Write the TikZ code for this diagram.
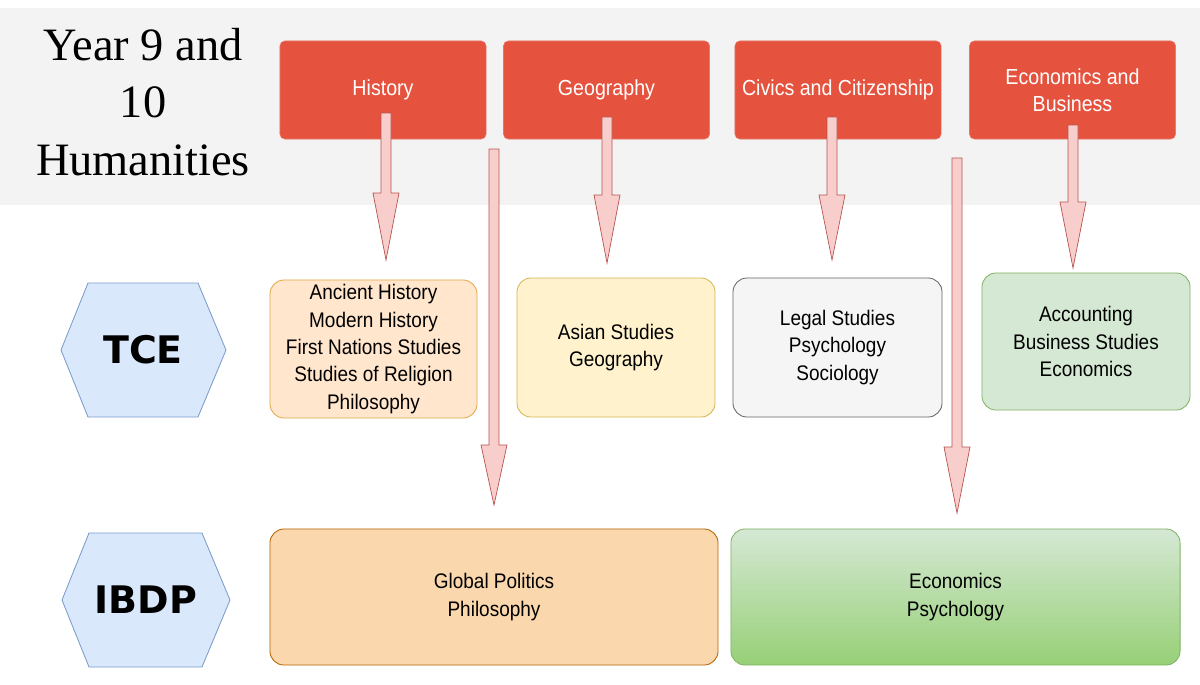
\documentclass[tikz,border=0pt]{standalone}
\usepackage{fontspec}
\setmainfont{Liberation Sans}[FakeStretch=0.9]
\newfontfamily\titleserif{Liberation Serif}
\newfontfamily\hexsans{DejaVu Sans}
\usetikzlibrary{calc}
\definecolor{bandgray}{HTML}{F3F3F3}
\definecolor{redfill}{HTML}{E5533F}
\definecolor{pinkfill}{HTML}{F8CECC}
\definecolor{pinkline}{HTML}{B85450}
\definecolor{hexfill}{HTML}{DAE8FC}
\definecolor{hexline}{HTML}{7B9CCB}
\definecolor{orfill}{HTML}{FFE6CC}
\definecolor{orline}{HTML}{E0A94A}
\definecolor{yefill}{HTML}{FFF2CC}
\definecolor{yeline}{HTML}{D6B656}
\definecolor{grfill}{HTML}{F5F5F5}
\definecolor{grline}{HTML}{666666}
\definecolor{gnfill}{HTML}{D5E8D4}
\definecolor{gnline}{HTML}{82B366}
\definecolor{or2fill}{HTML}{FAD7AC}
\definecolor{or2line}{HTML}{B46504}
\definecolor{gnbottom}{HTML}{97D077}
\tikzset{
  redbox/.style={fill=redfill, draw=redfill!80!white, rounded corners=0.12cm, minimum width=5.15cm, minimum height=2.45cm, text=white, align=center, font=\fontsize{15.5pt}{19.5pt}\selectfont, inner sep=0pt},
  subjbox/.style={rounded corners=0.35cm, align=center, font=\fontsize{15pt}{19.5pt}\selectfont, inner sep=0pt, line width=0.6pt},
  hexshape/.style={fill=hexfill, draw=hexline, line width=0.6pt},
  hextext/.style={font=\hexsans\bfseries\fontsize{27pt}{30pt}\selectfont},
  blockarrow/.style={fill=pinkfill, draw=pinkline, line width=0.5pt, line join=miter}
}
\newcommand{\blkarrow}[4]{%
  \path[blockarrow] (#1-5,#2) -- (#1+5,#2) -- (#1+5,#3) -- (#1+13,#3) -- (#1,#4) -- (#1-13,#3) -- (#1-5,#3) -- cycle;}
\begin{document}
\begin{tikzpicture}[x=0.025cm,y=-0.025cm]
\useasboundingbox (0,0) rectangle (1200,684);
\fill[white] (0,0) rectangle (1200,684);
\fill[bandgray] (0,8) rectangle (1200,205);

% title
\node[font=\titleserif\fontsize{33pt}{41pt}\selectfont, align=center] (title) at (143,102) {Year 9 and\\10\\Humanities};

% red subject boxes
\node[redbox] (hist) at (383,90) {History};
\node[redbox] (geo) at (606.5,90) {Geography};
\node[redbox] (civ) at (838,90) {Civics and Citizenship};
\node[redbox] (eco) at (1072.5,90) {Economics and\\Business};

% hexagons
\path[hexshape] (61,350) -- (88,283) -- (198,283) -- (226,350) -- (198,417) -- (88,417) -- cycle;
\node[hextext] (tce) at (143,350) {TCE};
\path[hexshape] (62,600) -- (89,533) -- (202,533) -- (230,600) -- (202,667) -- (89,667) -- cycle;
\node[hextext] (ibdp) at (146,600) {IBDP};

% TCE boxes
\node[subjbox, fill=orfill, draw=orline, minimum width=5.175cm, minimum height=3.45cm] (t1) at (373.5,349) {Ancient History\\Modern History\\First Nations Studies\\Studies of Religion\\Philosophy};
\node[subjbox, fill=yefill, draw=yeline, minimum width=4.95cm, minimum height=3.475cm] (t2) at (616,347.5) {Asian Studies\\Geography};
\node[subjbox, fill=grfill, draw=grline, minimum width=5.225cm, minimum height=3.475cm] (t3) at (837.5,347.5) {Legal Studies\\Psychology\\Sociology};
\node[subjbox, fill=gnfill, draw=gnline, minimum width=5.2cm, minimum height=3.425cm] (t4) at (1086,341.5) {Accounting\\Business Studies\\Economics};

% IBDP boxes
\node[subjbox, fill=or2fill, draw=or2line, minimum width=11.2cm, minimum height=3.4cm] (i1) at (494,597) {Global Politics\\Philosophy};
\node[subjbox, top color=gnfill, bottom color=gnbottom, draw=gnline, minimum width=11.225cm, minimum height=3.4cm] (i2) at (955.5,597) {Economics\\Psychology};

% block arrows
\blkarrow{386}{113}{193}{260}
\blkarrow{607}{117}{195}{263}
\blkarrow{832}{117}{195}{260}
\blkarrow{1073}{125}{202}{268}
\blkarrow{494}{149}{445}{505}
\blkarrow{957}{158}{447}{513}
\end{tikzpicture}
\end{document}
